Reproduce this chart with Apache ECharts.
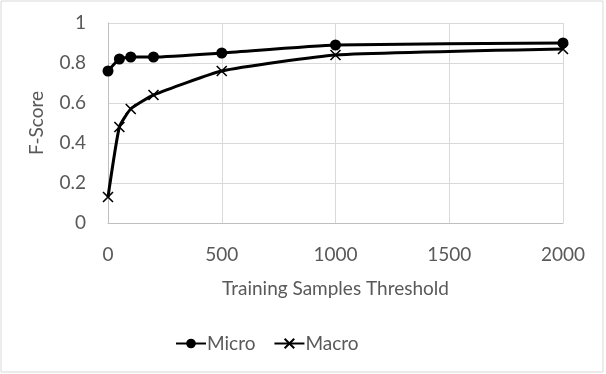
<!DOCTYPE html>
<html>
<head>
<meta charset="utf-8">
<script src="https://cdn.jsdelivr.net/npm/echarts@6/dist/echarts.min.js"></script>
<style>
  html, body { margin: 0; padding: 0; background: #fff; }
  #chart { width: 606px; height: 374px; }
</style>
</head>
<body>
<div id="chart"></div>
<script>
// training samples threshold
var thresholds = [0, 50, 100, 200, 500, 1000, 2000]
var micro = [0.76, 0.82, 0.83, 0.83, 0.85, 0.89, 0.90]
var macro = [0.13, 0.48, 0.57, 0.64, 0.76, 0.84, 0.87]

function pairs (ys) {
  return thresholds.map(function (x, i) { return [x, ys[i]] })
}

var chart = echarts.init(document.getElementById('chart'))
var font = 'Lato, "Open Sans", sans-serif'
var grey = '#595959'

var option = {
  animation: false,
  textStyle: { fontFamily: font, color: grey },
  graphic: [{
    type: 'rect',
    shape: { x: 1, y: 1, width: 602, height: 371 },
    style: { fill: 'none', stroke: '#d9d9d9', lineWidth: 1 }
  }],
  grid: { left: 108, right: 43, top: 23, bottom: 151 },
  xAxis: {
    type: 'value',
    min: 0,
    max: 2000,
    interval: 500,
    name: 'Training Samples Threshold',
    nameLocation: 'middle',
    nameGap: 56,
    nameTextStyle: { fontSize: 19, color: grey, fontFamily: font },
    axisLine: { lineStyle: { color: '#bfbfbf' } },
    axisTick: { show: false },
    axisLabel: { fontSize: 19, color: grey, margin: 22, fontFamily: font, formatter: function (v) { return String(v) } },
    splitLine: { show: true, lineStyle: { color: '#d9d9d9' } }
  },
  yAxis: {
    type: 'value',
    min: 0,
    max: 1,
    interval: 0.2,
    name: 'F-Score',
    nameLocation: 'middle',
    nameRotate: 90,
    nameGap: 62,
    nameTextStyle: { fontSize: 19, color: grey, fontFamily: font },
    axisLine: { show: true, lineStyle: { color: '#bfbfbf' } },
    axisTick: { show: false },
    axisLabel: { fontSize: 19, color: grey, margin: 22, fontFamily: font },
    splitLine: { lineStyle: { color: '#d9d9d9' } }
  },
  legend: {
    bottom: 16,
    left: 170,
    itemWidth: 30,
    itemHeight: 12,
    itemGap: 18,
    textStyle: { fontSize: 19, color: grey, fontFamily: font, padding: [0, 0, 0, -4] },
    data: ['Micro', 'Macro']
  },
  series: [
    {
      name: 'Micro',
      type: 'line',
      data: pairs(micro),
      smooth: 0.15,
      symbol: 'circle',
      symbolSize: 11,
      itemStyle: { color: '#000' },
      lineStyle: { color: '#000', width: 3 }
    },
    {
      name: 'Macro',
      type: 'line',
      data: pairs(macro),
      smooth: 0.15,
      symbol: 'path://M0,0L10,10M10,0L0,10',
      symbolSize: 10,
      itemStyle: { color: '#000', borderColor: '#000', borderWidth: 1.6 },
      lineStyle: { color: '#000', width: 3 }
    }
  ]
}
chart.setOption(option)
</script>
</body>
</html>
